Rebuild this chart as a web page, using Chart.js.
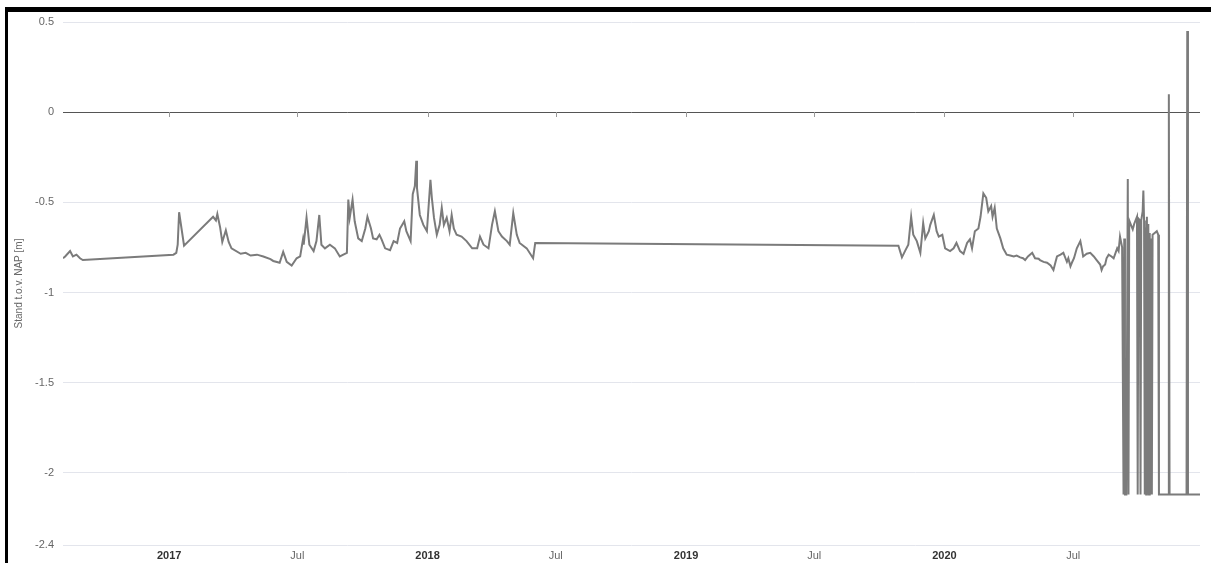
<!DOCTYPE html>
<html>
<head>
<meta charset="utf-8">
<script src="https://cdn.jsdelivr.net/npm/chart.js@4/dist/chart.umd.min.js"></script>
<style>
  html, body { margin: 0; padding: 0; background: #fff; }
  #wrap { position: relative; width: 1211px; height: 563px; overflow: hidden; }
  #chart { position: absolute; left: 0; top: 0; }
  #frame { position: absolute; left: 5px; top: 7px; right: 0; bottom: 0;
           border-top: 5px solid #000; border-left: 3px solid #000; pointer-events: none; }
</style>
</head>
<body>
<div id="wrap">
  <canvas id="chart" width="1211" height="563"></canvas>
  <div id="frame"></div>
</div>
<script>
// waterstand (m t.o.v. NAP)
const dates = [
  '2016-08-04','2016-08-07','2016-08-14','2016-08-18','2016-08-23','2016-08-28','2016-09-01',
  '2017-01-07','2017-01-11','2017-01-13','2017-01-15','2017-01-22',
  '2017-03-04','2017-03-08','2017-03-10','2017-03-14','2017-03-17','2017-03-22','2017-03-26','2017-03-30',
  '2017-04-12','2017-04-19','2017-04-26','2017-05-05','2017-05-14','2017-05-24','2017-05-28',
  '2017-06-06','2017-06-11','2017-06-16','2017-06-23','2017-06-30',
  '2017-07-05','2017-07-09','2017-07-10','2017-07-14','2017-07-18','2017-07-24','2017-07-28',
  '2017-08-01','2017-08-04','2017-08-09','2017-08-16','2017-08-23','2017-08-30',
  '2017-09-04','2017-09-09','2017-09-11','2017-09-13','2017-09-17','2017-09-20','2017-09-25','2017-09-30',
  '2017-10-05','2017-10-08','2017-10-13','2017-10-16','2017-10-21','2017-10-25','2017-10-28',
  '2017-11-02','2017-11-09','2017-11-14','2017-11-19','2017-11-23','2017-11-26','2017-11-29',
  '2017-12-02','2017-12-08','2017-12-11','2017-12-14','2017-12-16','2017-12-17','2017-12-21','2017-12-26','2017-12-31',
  '2018-01-05','2018-01-07','2018-01-10','2018-01-14','2018-01-18','2018-01-21','2018-01-24','2018-01-28',
  '2018-02-01','2018-02-04','2018-02-07','2018-02-11','2018-02-18','2018-02-25',
  '2018-03-05','2018-03-12','2018-03-16','2018-03-21','2018-03-28',
  '2018-04-02','2018-04-06','2018-04-11','2018-04-16','2018-04-23','2018-04-27',
  '2018-05-02','2018-05-07','2018-05-11','2018-05-21','2018-05-30','2018-06-02',
  '2019-10-28','2019-11-02','2019-11-07','2019-11-11','2019-11-15','2019-11-18','2019-11-23','2019-11-28',
  '2019-12-02','2019-12-05','2019-12-10','2019-12-12','2019-12-17','2019-12-21','2019-12-24','2019-12-29',
  '2020-01-02','2020-01-09','2020-01-14','2020-01-18','2020-01-23','2020-01-28',
  '2020-02-02','2020-02-06','2020-02-09','2020-02-13','2020-02-18','2020-02-21','2020-02-25','2020-02-29',
  '2020-03-03','2020-03-07','2020-03-09','2020-03-12','2020-03-15','2020-03-20','2020-03-24','2020-03-29',
  '2020-04-03','2020-04-08','2020-04-12','2020-04-17','2020-04-21','2020-04-24','2020-04-28',
  '2020-05-04','2020-05-06','2020-05-08','2020-05-13','2020-05-15','2020-05-20','2020-05-25','2020-05-30',
  '2020-06-03','2020-06-06','2020-06-08','2020-06-13','2020-06-17','2020-06-20','2020-06-22','2020-06-24','2020-06-27','2020-06-29',
  '2020-07-02','2020-07-06','2020-07-11','2020-07-13','2020-07-15','2020-07-20','2020-07-25','2020-07-30',
  '2020-08-03','2020-08-08','2020-08-10','2020-08-12','2020-08-15','2020-08-17','2020-08-20','2020-08-24','2020-08-27',
  '2020-09-01','2020-09-03','2020-09-05','2020-09-08','2020-09-09','2020-09-10','2020-09-11','2020-09-12','2020-09-13','2020-09-14',
  '2020-09-16','2020-09-17','2020-09-18','2020-09-19','2020-09-21','2020-09-23','2020-09-25','2020-09-27','2020-09-29',
  '2020-09-30','2020-10-01','2020-10-03','2020-10-04','2020-10-05','2020-10-07','2020-10-08','2020-10-09',
  '2020-10-10','2020-10-11','2020-10-12','2020-10-13','2020-10-14','2020-10-15','2020-10-16','2020-10-17',
  '2020-10-18','2020-10-19','2020-10-20','2020-10-21','2020-10-24','2020-10-27','2020-10-29','2020-10-30',
  '2020-11-12','2020-11-13','2020-11-14','2020-12-08','2020-12-09','2020-12-10','2020-12-27'
];
const levels = [
  -0.81,-0.80,-0.77,-0.80,-0.79,-0.81,-0.82,
  -0.79,-0.78,-0.735,-0.555,-0.74,
  -0.58,-0.60,-0.565,-0.64,-0.72,-0.655,-0.72,-0.755,
  -0.785,-0.78,-0.795,-0.79,-0.80,-0.815,-0.825,
  -0.835,-0.775,-0.83,-0.85,-0.81,
  -0.80,-0.705,-0.735,-0.585,-0.735,-0.77,-0.715,
  -0.57,-0.735,-0.755,-0.735,-0.755,-0.80,
  -0.79,-0.78,-0.485,-0.585,-0.485,-0.605,-0.70,-0.715,
  -0.645,-0.58,-0.645,-0.70,-0.705,-0.68,-0.705,
  -0.755,-0.765,-0.715,-0.725,-0.645,-0.625,-0.605,
  -0.66,-0.715,-0.455,-0.41,-0.27,-0.42,-0.57,-0.625,-0.66,
  -0.375,-0.475,-0.585,-0.68,-0.625,-0.53,-0.625,-0.585,
  -0.66,-0.57,-0.645,-0.68,-0.69,-0.715,
  -0.755,-0.755,-0.69,-0.735,-0.755,
  -0.625,-0.55,-0.66,-0.69,-0.715,-0.735,
  -0.56,-0.68,-0.725,-0.755,-0.81,-0.725,
  -0.74,-0.805,-0.765,-0.735,-0.58,-0.68,-0.715,-0.78,
  -0.615,-0.70,-0.66,-0.625,-0.57,-0.66,-0.69,-0.68,
  -0.755,-0.77,-0.755,-0.725,-0.77,-0.785,
  -0.725,-0.705,-0.755,-0.66,-0.645,-0.58,-0.45,-0.475,
  -0.55,-0.52,-0.58,-0.53,-0.645,-0.70,-0.755,-0.79,
  -0.795,-0.80,-0.795,-0.805,-0.81,-0.82,-0.80,
  -0.78,-0.795,-0.81,-0.813,-0.82,-0.83,-0.835,-0.85,
  -0.875,-0.83,-0.80,-0.79,-0.78,-0.81,-0.83,-0.81,-0.855,-0.835,
  -0.81,-0.755,-0.715,-0.755,-0.80,-0.785,-0.78,-0.80,
  -0.82,-0.845,-0.875,-0.855,-0.845,-0.81,-0.79,-0.80,-0.81,
  -0.755,-0.77,-0.69,-0.75,-0.75,-2.12,-0.70,-2.12,-2.12,-2.12,
  -0.37,-2.12,-0.62,-0.61,-0.63,-0.65,-0.62,-0.60,-0.58,
  -2.12,-0.59,-0.60,-2.12,-0.60,-0.55,-0.435,-0.60,
  -2.12,-0.64,-2.12,-0.58,-2.12,-0.62,-2.12,-0.67,
  -2.12,-0.70,-2.12,-0.68,-0.67,-0.66,-0.68,-2.12,
  -2.12,0.10,-2.12,-2.12,0.45,-2.12,-2.12
];

const yTicks = [0.5, 0, -0.5, -1, -1.5, -2, -2.4];
const xTickDates = ['2017-01-01','2017-07-01','2018-01-01','2018-07-01','2019-01-01','2019-07-01','2020-01-01','2020-07-01'];
const xTickLabels = ['2017','Jul','2018','Jul','2019','Jul','2020','Jul'];

const points = dates.map((d, i) => ({ x: Date.parse(d), y: levels[i] }));
const xTickValues = xTickDates.map(d => Date.parse(d));

// small tick marks hanging under the zero line
const zeroTicks = {
  id: 'zeroTicks',
  beforeDatasetsDraw(chart) {
    const { ctx, scales: { x, y } } = chart;
    const y0 = Math.round(y.getPixelForValue(0));
    ctx.save();
    ctx.strokeStyle = '#999';
    ctx.lineWidth = 1;
    xTickValues.forEach(v => {
      const px = Math.round(x.getPixelForValue(v)) + 0.5;
      ctx.beginPath();
      ctx.moveTo(px, y0);
      ctx.lineTo(px, y0 + 5);
      ctx.stroke();
    });
    ctx.restore();
  }
};

Chart.defaults.font.family = '"Liberation Sans", Arial, sans-serif';
Chart.defaults.font.size = 11;
Chart.defaults.color = '#666';

new Chart(document.getElementById('chart'), {
  type: 'line',
  data: {
    datasets: [{
      label: 'Stand',
      data: points,
      borderColor: '#7b7b7b',
      borderWidth: 2,
      pointRadius: 0,
      tension: 0,
      fill: false
    }]
  },
  options: {
    responsive: false,
    animation: false,
    devicePixelRatio: 1,
    layout: { padding: { top: 22, right: 11, bottom: 0, left: 0 } },
    plugins: { legend: { display: false }, tooltip: { enabled: false } },
    scales: {
      x: {
        type: 'linear',
        min: Date.parse(dates[0]),
        max: Date.parse(dates[dates.length - 1]),
        afterBuildTicks: s => { s.ticks = xTickValues.map(v => ({ value: v })); },
        afterFit: s => { s.height = 18; },
        grid: { display: false, drawTicks: false },
        border: { display: false },
        ticks: {
          autoSkip: false,
          maxRotation: 0,
          padding: 4,
          callback: (v, i) => xTickLabels[i],
          color: c => (xTickLabels[c.index] === 'Jul' ? '#666' : '#333'),
          font: c => ({ size: 11, weight: xTickLabels[c.index] === 'Jul' ? 'normal' : 'bold' })
        }
      },
      y: {
        min: -2.4,
        max: 0.5,
        afterBuildTicks: s => { s.ticks = yTicks.map(v => ({ value: v })); },
        afterFit: s => { s.width = 63; },
        grid: {
          drawTicks: false,
          color: c => (c.tick && c.tick.value === 0 ? '#555' : '#e3e5ec'),
          lineWidth: 1
        },
        border: { display: false },
        ticks: { padding: 9, color: '#666', callback: v => String(v) },
        title: {
          display: true,
          text: 'Stand t.o.v. NAP [m]',
          color: '#666',
          font: { size: 10 },
          padding: { top: 13, bottom: 0 }
        }
      }
    }
  },
  plugins: [zeroTicks]
});
</script>
</body>
</html>
